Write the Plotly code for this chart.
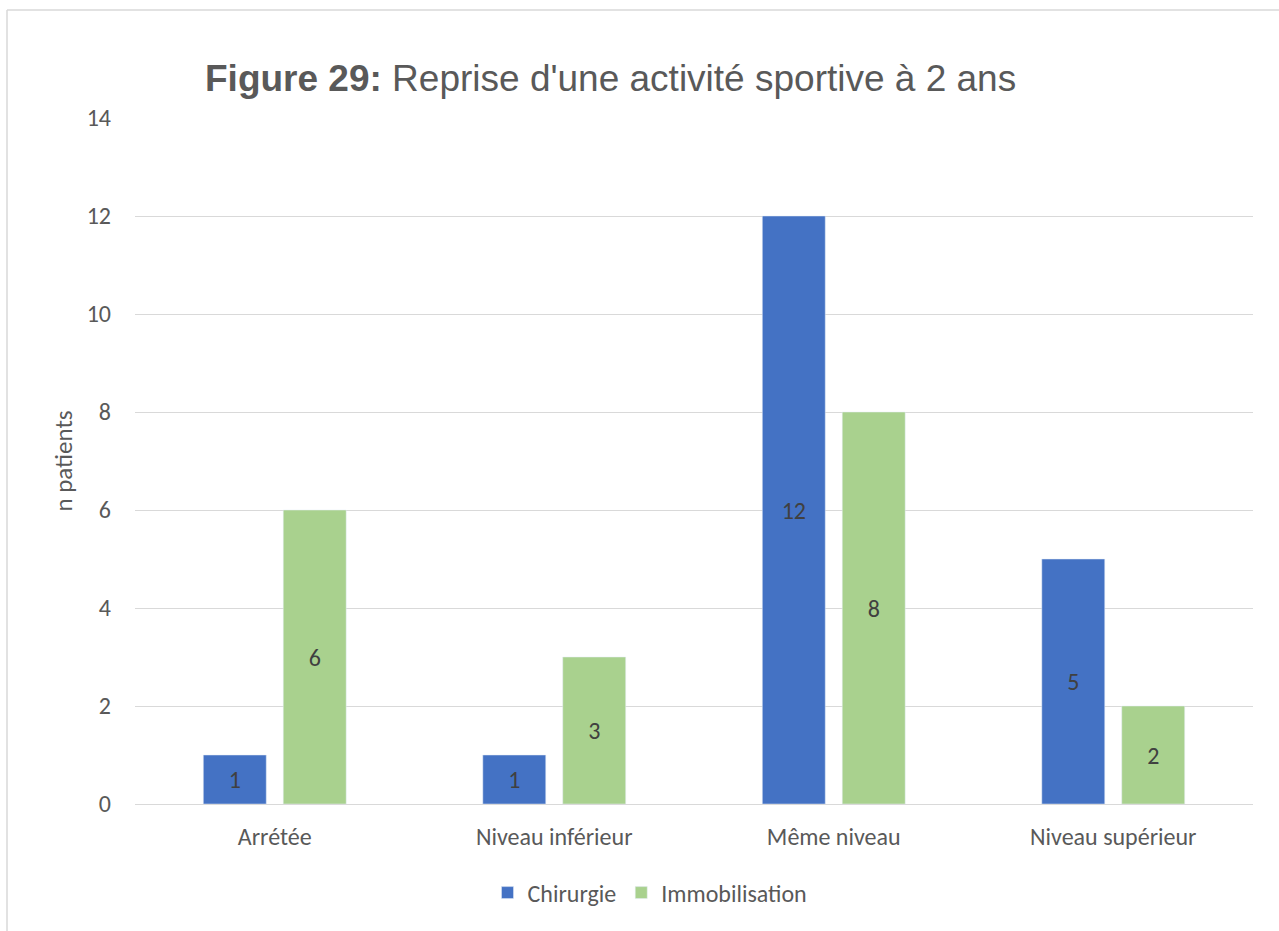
import plotly.graph_objects as go

categories = ["Arrétée", "Niveau inférieur", "Même niveau", "Niveau supérieur"]
chirurgie = [1, 1, 12, 5]
immobilisation = [6, 3, 8, 2]
y_ticks = [0, 2, 4, 6, 8, 10, 12, 14]

W, H = 1279, 931
L, R, T, B = 135, 1253, 118, 804

def px_x(p):
    return (p - L) / (R - L)

def px_y(p):
    return (B - p) / (B - T)

FAM = "Carlito, Lato, 'Open Sans', sans-serif"
txt_font = dict(family=FAM, size=24, color="#595959")
lbl_font = dict(family=FAM, size=24, color="#404040")

fig = go.Figure()
fig.add_trace(go.Bar(name="Chirurgie", x=categories, y=chirurgie, marker_color="#4472C4",
                     text=chirurgie, textposition="inside", insidetextanchor="middle",
                     textfont=lbl_font, textangle=0))
fig.add_trace(go.Bar(name="Immobilisation", x=categories, y=immobilisation, marker_color="#A9D18E",
                     text=immobilisation, textposition="inside", insidetextanchor="middle",
                     textfont=lbl_font, textangle=0))

fig.update_layout(
    width=W, height=H,
    margin=dict(l=L, r=W - R, t=T, b=H - B),
    paper_bgcolor="white", plot_bgcolor="white",
    barmode="group", bargap=0.428, bargroupgap=0.2125,
    showlegend=True,
    legend=dict(orientation="h", x=px_x(650), xanchor="center", y=px_y(893), yanchor="middle",
                font=txt_font, itemwidth=30, traceorder="normal"),
    uniformtext=dict(mode=False),
)
fig.update_xaxes(showgrid=False, showline=False, ticks="", tickfont=txt_font, ticklabelstandoff=16)
fig.update_yaxes(range=[0, 14], tickvals=y_ticks, showgrid=True, gridcolor="#D9D9D9", gridwidth=1,
                 zeroline=True, zerolinecolor="#D9D9D9", zerolinewidth=1,
                 showline=False, ticks="", tickfont=txt_font, ticklabelstandoff=23,
                 title=dict(text="n patients", font=dict(family=FAM, size=25, color="#595959"), standoff=6))

fig.add_annotation(xref="paper", yref="paper", x=px_x(610), y=px_y(78), xanchor="center", yanchor="middle",
                   text="<b>Figure 29:</b> Reprise d'une activité sportive à 2 ans", showarrow=False,
                   font=dict(family="Liberation Sans, Arial, sans-serif", size=37, color="#595959"))

# chart border (outer frame)
fig.add_shape(type="line", xref="paper", yref="paper", x0=px_x(7), x1=px_x(1279), y0=px_y(10), y1=px_y(10),
              line=dict(color="#D9D9D9", width=1.5))
fig.add_shape(type="line", xref="paper", yref="paper", x0=px_x(7), x1=px_x(7), y0=px_y(10), y1=px_y(931),
              line=dict(color="#D9D9D9", width=1.5))

fig.write_html("out.html")
